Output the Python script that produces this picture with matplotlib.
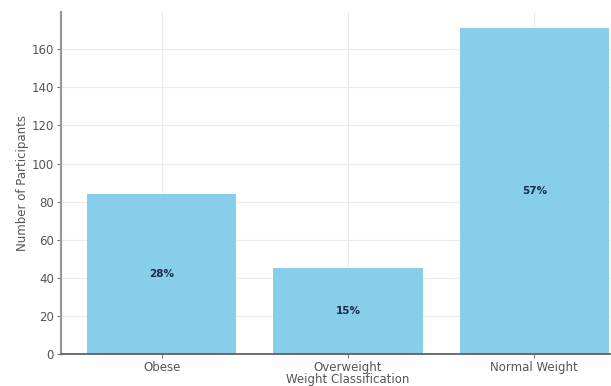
import matplotlib.pyplot as plt

# 데이터
categories = ['Obese', 'Overweight', 'Normal Weight']
counts = [84, 45, 171]
percent_labels = ['28%', '15%', '57%']

fig = plt.figure(figsize=(6.11, 3.86), dpi=100)
# 오른쪽이 잘린 원본과 맞추기 위해 축이 그림 밖으로 조금 나가게 배치
ax = fig.add_axes([61 / 611, 32 / 386, 574 / 611, 342 / 386])

bars = ax.bar(categories, counts, color='skyblue', width=0.8, zorder=2)

# 막대 중앙에 비율 표시
for rect, lab in zip(bars, percent_labels):
    ax.text(rect.get_x() + rect.get_width() / 2, rect.get_height() / 2, lab,
            ha='center', va='center', fontsize=7.5, fontweight='bold',
            color='#1a2a4a', zorder=3)

ax.grid(True, color='#ebebeb', linewidth=0.8, zorder=0)
ax.set_axisbelow(True)
ax.spines['top'].set_visible(False)
ax.spines['right'].set_visible(False)
ax.spines['left'].set_color('#999999')
ax.spines['left'].set_linewidth(1.6)
ax.spines['bottom'].set_color('#555555')
ax.spines['bottom'].set_linewidth(1.2)
ax.tick_params(axis='both', colors='#777777', labelcolor='#555555',
               labelsize=8.5, length=3, pad=2)

ax.set_xlabel('Weight Classification', fontsize=8.5, color='#555555', labelpad=-1)
ax.set_ylabel('Number of Participants', fontsize=8.5, color='#555555', labelpad=2)
ax.set_yticks(range(0, 161, 20))

fig.savefig('out.png', dpi=100)
